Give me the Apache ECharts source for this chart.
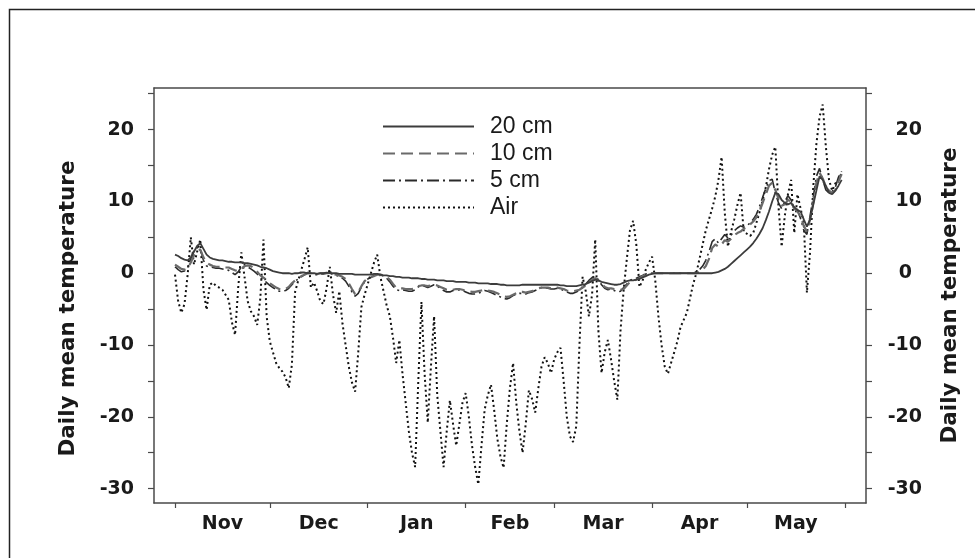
<!DOCTYPE html>
<html><head><meta charset="utf-8">
<script src="https://cdn.jsdelivr.net/npm/echarts@6/dist/echarts.min.js"></script>
<style>html,body{margin:0;padding:0;background:#fff}#c{width:975px;height:558px}</style>
</head><body><div id="c"></div>
<script>
// Month labels and day counts (day 0 = 1 Nov)
const monthLabels = ['Nov', 'Dec', 'Jan', 'Feb', 'Mar', 'Apr', 'May'];
const monthDays = [30, 31, 31, 28, 31, 30, 31];
const yTickValues = [-30, -25, -20, -15, -10, -5, 0, 5, 10, 15, 20, 25];
const yLabelValues = [-30, -20, -10, 0, 10, 20];
const axisName = 'Daily mean temperature';
const seriesNames = ['20 cm', '10 cm', '5 cm', 'Air'];

// Daily mean temperatures, 1 Nov .. 31 May
const air = [
  -0.2, -3.9, -5.5, -4.3, -0.2, 5.0, 1.2, 3.0, 4.7, -2.3,
  -5.1, -1.6, -1.3, -1.8, -2.0, -2.3, -3.0, -3.7, -6.8, -8.6,
  -2.0, 2.9, -0.5, -3.9, -5.3, -6.0, -7.2, -3.5, 4.7, -6.0,
  -9.5, -11.0, -12.5, -13.2, -13.7, -14.5, -16.0, -12.7, -2.6, -1.0,
  0.5, 2.0, 3.6, -2.0, -1.3, -2.5, -3.9, -4.3, -2.0, 0.9,
  -3.0, -5.5, -2.5, -7.0, -10.0, -13.0, -15.2, -16.5, -11.0, -4.7,
  -3.0, -1.5, 0.0, 1.5, 2.6, -0.5, -2.5, -4.5, -6.0, -9.0,
  -12.5, -9.3, -14.0, -18.0, -22.0, -25.0, -27.0, -15.0, -4.0, -14.0,
  -20.8, -13.0, -6.0, -17.0, -22.0, -27.0, -22.0, -17.7, -21.0, -24.0,
  -21.0, -18.0, -16.7, -20.0, -24.0, -27.0, -29.4, -24.0, -19.0, -17.0,
  -15.5, -19.0, -23.0, -25.5, -27.1, -21.0, -16.0, -12.5, -18.0, -22.0,
  -25.0, -21.0, -16.3, -17.5, -19.4, -16.0, -13.0, -11.7, -12.5, -13.9,
  -12.0, -11.0, -10.4, -15.0, -20.0, -22.7, -23.5, -21.3, -10.0, -0.5,
  -2.5, -6.0, -3.0, 4.7, -8.0, -13.9, -11.0, -9.3, -12.0, -15.0,
  -17.6, -8.0, -2.3, 2.0, 6.0, 7.3, 4.0, -1.9, -1.0, 0.5,
  1.5, 2.3, -1.0, -6.0, -10.0, -13.0, -14.0, -12.5, -11.0, -9.5,
  -7.5, -6.5, -5.5, -3.5, -1.5, 0.0, 2.0, 4.0, 6.0, 7.5,
  9.0, 10.7, 13.0, 16.2, 8.4, 3.7, 5.8, 7.5, 9.5, 11.2,
  5.8, 5.5, 5.2, 5.6, 7.0, 8.5, 10.2, 12.0, 14.5, 16.5,
  17.6, 9.3, 3.7, 8.0, 11.0, 13.0, 5.6, 11.0, 9.0, 7.0,
  -2.7, 3.0, 12.0, 18.0, 21.8, 23.5, 17.6, 13.0, 11.5, 12.5,
  13.0, 14.0
];
const soil20 = [
  2.6, 2.4, 2.1, 1.9, 1.8, 2.2, 3.0, 3.8, 4.2, 3.4,
  2.6, 2.2, 2.0, 1.9, 1.8, 1.8, 1.7, 1.6, 1.6, 1.5,
  1.5, 1.5, 1.4, 1.4, 1.3, 1.2, 1.1, 0.9, 0.8, 0.7,
  0.5, 0.3, 0.2, 0.1, 0.0, 0.0, 0.0, -0.1, 0.0, 0.0,
  0.1, 0.1, 0.0, 0.0, 0.0, -0.1, 0.0, 0.0, 0.1, 0.0,
  0.0, 0.0, -0.1, -0.1, -0.1, -0.1, -0.1, -0.2, -0.2, -0.2,
  -0.2, -0.2, -0.2, -0.1, -0.1, -0.2, -0.3, -0.3, -0.4, -0.4,
  -0.5, -0.5, -0.6, -0.6, -0.6, -0.7, -0.7, -0.7, -0.8, -0.8,
  -0.9, -0.9, -0.9, -1.0, -1.0, -1.0, -1.1, -1.1, -1.1, -1.2,
  -1.2, -1.2, -1.2, -1.3, -1.3, -1.3, -1.4, -1.4, -1.4, -1.4,
  -1.5, -1.5, -1.5, -1.6, -1.6, -1.7, -1.7, -1.7, -1.7, -1.7,
  -1.6, -1.6, -1.6, -1.6, -1.6, -1.6, -1.6, -1.6, -1.6, -1.6,
  -1.6, -1.6, -1.7, -1.7, -1.8, -1.8, -1.8, -1.8, -1.7, -1.6,
  -1.5, -1.3, -1.1, -0.9, -1.0, -1.2, -1.3, -1.4, -1.5, -1.6,
  -1.6, -1.5, -1.3, -1.1, -1.0, -1.0, -0.9, -0.8, -0.6, -0.4,
  -0.2, -0.1, 0.0, 0.0, 0.0, 0.0, 0.0, 0.0, 0.0, 0.0,
  0.0, 0.0, 0.0, 0.0, 0.0, 0.0, 0.0, 0.0, 0.0, 0.0,
  0.0, 0.1, 0.2, 0.4, 0.6, 0.9, 1.3, 1.7, 2.1, 2.5,
  2.9, 3.3, 3.7, 4.2, 4.8, 5.5, 6.3, 7.4, 8.6, 10.0,
  11.2, 11.0, 10.2, 9.8, 9.6, 9.8, 9.2, 8.8, 8.6, 7.5,
  6.5, 7.5, 9.5, 11.5, 13.5, 13.0, 12.2, 11.2, 11.0, 11.5,
  12.2, 13.0
];
const soil10 = [
  1.2, 0.9, 0.6, 0.5, 0.7, 1.5, 2.5, 3.1, 3.3, 2.2,
  1.5, 1.2, 1.0, 0.9, 0.9, 0.8, 0.8, 0.8, 0.6, 0.4,
  0.3, 0.6, 1.0, 1.1, 1.0, 0.7, 0.2, -0.3, -0.6, -1.0,
  -1.4, -1.7, -2.0, -2.2, -2.3, -2.2, -1.9, -1.4, -1.0, -0.7,
  -0.4, -0.2, 0.0, 0.0, -0.1, -0.1, 0.0, 0.0, 0.0, 0.0,
  -0.1, -0.2, -0.3, -0.5, -0.8, -1.4, -2.2, -2.9, -2.6, -1.8,
  -1.1, -0.7, -0.5, -0.4, -0.2, -0.2, -0.3, -0.5, -0.9, -1.5,
  -2.0, -2.1, -2.1, -2.2, -2.2, -2.2, -2.1, -1.8, -1.7, -1.7,
  -1.8, -1.7, -1.6, -1.7, -1.9, -2.1, -2.3, -2.4, -2.3, -2.2,
  -2.2, -2.3, -2.4, -2.5, -2.6, -2.6, -2.5, -2.4, -2.3, -2.4,
  -2.5, -2.6, -2.8, -3.0, -3.2, -3.3, -3.2, -3.0, -2.8, -2.6,
  -2.6, -2.7, -2.6, -2.5, -2.3, -2.1, -2.0, -2.0, -2.0, -2.1,
  -2.1, -2.0, -2.1, -2.2, -2.4, -2.5, -2.5, -2.4, -2.3, -2.0,
  -1.7, -1.3, -0.9, -0.7, -1.0, -1.5, -1.9, -2.1, -2.1, -2.2,
  -2.3, -2.3, -2.2, -1.7, -1.2, -1.0, -0.9, -0.7, -0.4, -0.2,
  -0.1, 0.0, 0.0, 0.0, 0.0, 0.0, 0.0, 0.0, 0.0, 0.0,
  0.0, 0.0, 0.0, 0.0, 0.0, 0.0, 0.2, 0.5, 1.0, 2.0,
  3.5, 4.0, 3.7, 4.0, 4.6, 4.4, 4.8, 5.3, 5.6, 5.8,
  6.2, 6.4, 6.8, 7.2, 7.8, 8.6, 9.8, 11.0, 12.2, 12.6,
  11.6, 10.4, 9.4, 9.6, 10.2, 10.0, 9.0, 8.6, 7.9, 6.6,
  5.8, 7.5, 9.8, 12.6, 14.0, 13.2, 12.0, 11.5, 11.2, 11.6,
  12.8, 13.8
];
const soil5 = [
  0.9, 0.5, 0.2, 0.3, 0.8, 2.0, 3.2, 3.6, 3.4, 1.8,
  1.0, 0.9, 0.8, 0.7, 0.7, 0.6, 0.5, 0.4, 0.1, -0.2,
  0.2, 0.9, 1.2, 0.9, 0.6, 0.3, -0.1, -0.6, -0.9, -1.3,
  -1.7, -2.0, -2.3, -2.5, -2.5, -2.4, -2.1, -1.6, -1.1, -0.8,
  -0.5, -0.2, 0.1, 0.0, -0.2, -0.2, -0.1, -0.1, 0.0, 0.1,
  -0.2, -0.3, -0.4, -0.7, -1.1, -1.8, -2.6, -3.2, -2.8, -1.9,
  -1.2, -0.8, -0.6, -0.3, -0.1, -0.2, -0.4, -0.7, -1.2, -1.8,
  -2.3, -2.4, -2.3, -2.4, -2.5, -2.5, -2.3, -1.9, -1.7, -1.8,
  -2.0, -1.8, -1.6, -1.8, -2.1, -2.4, -2.6, -2.6, -2.4, -2.4,
  -2.3, -2.4, -2.6, -2.8, -2.9, -2.9, -2.8, -2.6, -2.4, -2.5,
  -2.7, -2.9, -3.1, -3.3, -3.5, -3.6, -3.4, -3.1, -2.9, -2.8,
  -2.8, -2.9, -2.7, -2.6, -2.4, -2.2, -2.0, -2.0, -2.1, -2.2,
  -2.2, -2.1, -2.2, -2.4, -2.6, -2.8, -2.8, -2.6, -2.4, -1.9,
  -1.5, -1.0, -0.6, -0.4, -0.9, -1.6, -2.1, -2.3, -2.2, -2.4,
  -2.6, -2.5, -2.0, -1.5, -1.0, -0.8, -0.7, -0.5, -0.3, -0.1,
  0.0, 0.0, 0.0, 0.0, 0.0, 0.0, 0.0, 0.0, 0.0, 0.0,
  0.0, 0.0, 0.0, 0.0, 0.0, 0.2, 0.5, 1.0, 1.8, 3.0,
  4.4, 4.8, 4.2, 4.8, 5.4, 4.9, 5.3, 5.9, 6.3, 6.6,
  6.4, 6.6, 7.0, 7.5, 8.2, 9.3, 10.6, 11.8, 12.9, 13.1,
  11.2, 9.8, 9.0, 10.0, 10.8, 10.2, 8.8, 8.9, 7.6, 6.0,
  5.4, 8.0, 10.6, 13.5, 14.6, 13.0, 11.6, 11.2, 11.4, 12.0,
  13.4, 14.2
];

// month boundaries and label centres (in days since 1 Nov)
const monthBounds = [0];
monthDays.forEach(function (n) { monthBounds.push(monthBounds[monthBounds.length - 1] + n); });
const monthMids = monthLabels.map(function (m, i) { return (monthBounds[i] + monthBounds[i + 1]) / 2; });

function toXY(arr) { return arr.map(function (v, i) { return [i, v]; }); }

const AXIS_COLOR = '#4a4a4a';
const TXT = '#1a1a1a';
const lblFont = { fontFamily: 'DejaVu Sans', fontWeight: 'bold', fontSize: 19, color: TXT };

const chart = echarts.init(document.getElementById('c'), null, { renderer: 'canvas' });

const yAxisBase = function (pos) {
  const left = pos === 'left';
  const label = Object.assign({ customValues: yLabelValues, margin: left ? 20 : 56, align: 'right' }, lblFont);
  if (!left) {
    label.formatter = function (v) { return v === 0 ? '{z|0}' : String(v); };
    label.rich = { z: Object.assign({ padding: [0, 10, 0, 0] }, lblFont) };
  }
  return {
    type: 'value', position: pos, min: -32, max: 25.8,
    splitLine: { show: false },
    axisLine: { show: true, onZero: false, lineStyle: { color: AXIS_COLOR, width: 1.5 } },
    axisTick: { show: true, inside: false, length: 6, customValues: yTickValues, lineStyle: { color: AXIS_COLOR, width: 1.2 } },
    axisLabel: label,
    name: axisName, nameLocation: 'middle', nameGap: left ? 75 : 73,
    nameTextStyle: {
      fontFamily: 'DejaVu Sans', fontWeight: 'bold', fontSize: 21.5, color: TXT,
      padding: left ? [0, 26, 0, 0] : [0, 0, 0, 0]
    }
  };
};

chart.setOption({
  animation: false,
  backgroundColor: '#fff',
  graphic: [{
    type: 'rect', shape: { x: 9.5, y: 9.5, width: 1000, height: 600 },
    style: { fill: 'none', stroke: '#222', lineWidth: 1.5 }, silent: true, z: -1
  }],
  grid: { left: 154, right: 109, top: 88, bottom: 55, containLabel: false },
  legend: {
    orient: 'vertical', left: 377, top: 110, itemWidth: 91, itemHeight: 14, itemGap: 4,
    data: seriesNames,
    itemStyle: { opacity: 0 },
    textStyle: { fontFamily: 'Liberation Sans', fontSize: 23, color: TXT, lineHeight: 23, padding: [0, 0, 0, 11] }
  },
  xAxis: [{
    type: 'value', min: -6.65, max: 218.7, position: 'bottom',
    splitLine: { show: false },
    axisLine: { show: true, onZero: false, lineStyle: { color: AXIS_COLOR, width: 1.5 } },
    axisTick: { show: true, inside: false, length: 5, customValues: monthBounds, lineStyle: { color: AXIS_COLOR, width: 1.2 } },
    axisLabel: Object.assign({
      customValues: monthMids, margin: 12,
      formatter: function (v) {
        var i = monthMids.indexOf(v);
        return i >= 0 ? monthLabels[i] : '';
      }
    }, lblFont)
  }, {
    type: 'value', min: -6.65, max: 218.7, position: 'top',
    splitLine: { show: false },
    axisLine: { show: true, onZero: false, lineStyle: { color: AXIS_COLOR, width: 1.5 } },
    axisTick: { show: false }, axisLabel: { show: false }
  }],
  yAxis: [yAxisBase('left'), yAxisBase('right')],
  series: [
    {
      name: 'Air', type: 'line', data: toXY(air), symbol: 'none', z: 2,
      lineStyle: { color: '#111', width: 2, type: [2, 3] }
    },
    {
      name: '5 cm', type: 'line', data: toXY(soil5), symbol: 'none', z: 3,
      lineStyle: { color: '#2a2a2a', width: 1.6, type: [12, 4, 2, 4] }
    },
    {
      name: '10 cm', type: 'line', data: toXY(soil10), symbol: 'none', z: 3,
      lineStyle: { color: '#6a6a6a', width: 2.2, type: [12, 6] }
    },
    {
      name: '20 cm', type: 'line', data: toXY(soil20), symbol: 'none', z: 4,
      lineStyle: { color: '#3c3c3c', width: 1.8 }
    }
  ]
});
</script>
</body></html>
